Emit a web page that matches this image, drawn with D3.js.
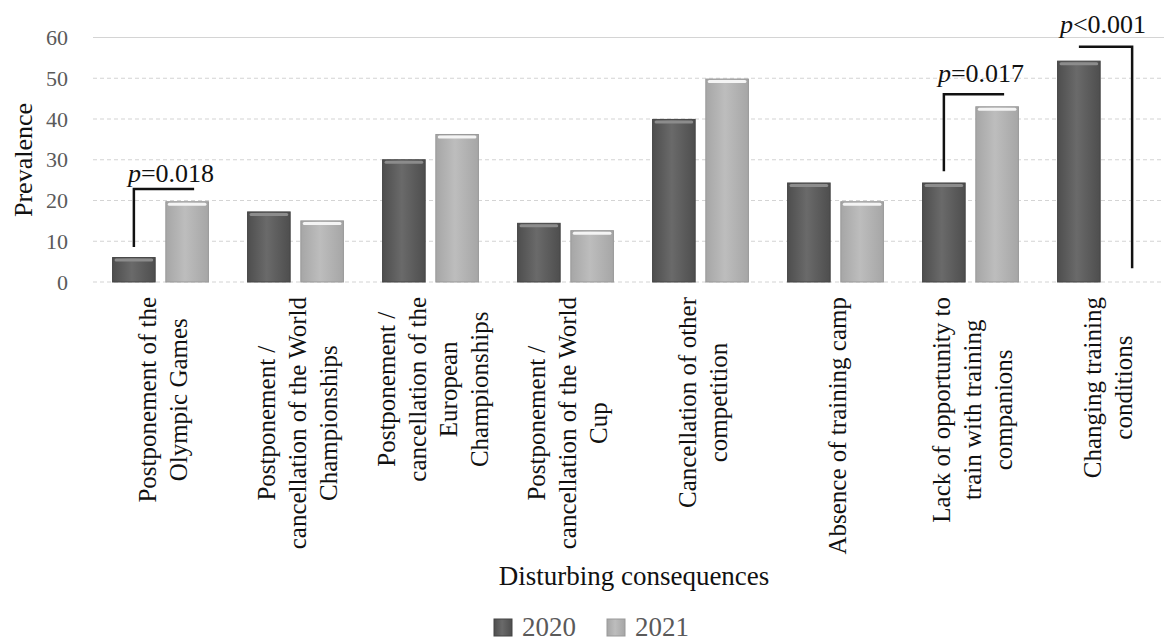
<!DOCTYPE html>
<html>
<head>
<meta charset="utf-8">
<script src="https://cdn.jsdelivr.net/npm/d3@7"></script>
<style>
  body { margin: 0; background: #fff; }
  svg { display: block; }
  text { font-family: "Liberation Serif", "Times New Roman", serif; }
</style>
</head>
<body>
<div id="chart"></div>
<script>
var w = 1164;
var h = 643;

// categories (label lines) and the two series
var categories = [
  ["Postponement of the", "Olympic Games"],
  ["Postponement /", "cancellation of the World", "Championships"],
  ["Postponement /", "cancellation of the", "European", "Championships"],
  ["Postponement /", "cancellation of the World", "Cup"],
  ["Cancellation of other", "competition"],
  ["Absence of training camp"],
  ["Lack of opportunity to", "train with training", "companions"],
  ["Changing training", "conditions"]
];
var years = ["2020", "2021"];
var values2020 = [6, 17.2, 30, 14.4, 39.9, 24.3, 24.3, 54.2];
var values2021 = [19.7, 15, 36.2, 12.6, 49.8, 19.7, 43, 0];
var yTicks = [0, 10, 20, 30, 40, 50, 60];

// significance brackets: category index, label, low end / top end (in prevalence units)
var pLabels = ["p=0.018", "p=0.017", "p<0.001"];
var pCats = [0, 6, 7];
var pLow = [8.6, 27.2, 3.4];
var pTop = [22.8, 46.1, 57.7];

var xAxisLabel = "Disturbing consequences",
    yAxisLabel = "Prevalence";

var svg = d3.select("#chart")
    .append("svg")
    .attr("width", w)
    .attr("height", h);

var margin = {top: 37.5, left: 93},
    plotW = 1080,
    plotH = 244.5;

var defs = svg.append("defs");
function grad(id, edge, mid) {
  var g = defs.append("linearGradient").attr("id", id)
      .attr("x1", "0%").attr("x2", "100%").attr("y1", "0%").attr("y2", "0%");
  g.append("stop").attr("offset", "0%").attr("stop-color", edge);
  g.append("stop").attr("offset", "45%").attr("stop-color", mid);
  g.append("stop").attr("offset", "100%").attr("stop-color", edge);
}
grad("g2020", "#4e4e4e", "#6a6a6a");
grad("g2021", "#a6a6a6", "#bdbdbd");
var colors = {"2020": "url(#g2020)", "2021": "url(#g2021)"};
var strokes = {"2020": "#444", "2021": "#999"};
var caps = {"2020": "#8c8c8c", "2021": "#f4f4f4"};

var g = svg.append("g").attr("transform", "translate(" + margin.left + "," + margin.top + ")");

var x0 = d3.scaleBand()
    .domain(d3.range(categories.length))
    .range([0, plotW])
    .paddingInner(0.29)
    .paddingOuter(0.145);

var x1 = d3.scaleBand()
    .domain(years)
    .range([0, x0.bandwidth()])
    .paddingInner(0.2);

var y = d3.scaleLinear()
    .domain([0, 60])
    .range([plotH, 0]);

// gridlines
g.append("g")
  .selectAll("line")
  .data(yTicks)
  .enter().append("line")
    .attr("x1", 0)
    .attr("x2", w - margin.left)
    .attr("y1", function(d) { return y(d); })
    .attr("y2", function(d) { return y(d); })
    .attr("stroke", "#d4d4d4")
    .attr("stroke-width", 1.2)
    .attr("stroke-dasharray", function(d) { return d === 60 ? null : "4,3"; });

// y tick labels
g.append("g")
  .selectAll("text")
  .data(yTicks)
  .enter().append("text")
    .attr("x", -25)
    .attr("y", function(d) { return y(d); })
    .attr("dy", "0.35em")
    .attr("text-anchor", "end")
    .attr("fill", "#5a5a5a")
    .style("font-size", "22px")
    .text(function(d) { return d; });

// bars
var rows = categories.map(function(c, i) {
  return {i: i, vals: [{year: "2020", v: values2020[i]}, {year: "2021", v: values2021[i]}]};
});

var groups = g.selectAll(".grp")
  .data(rows)
  .enter().append("g")
    .attr("transform", function(d) { return "translate(" + x0(d.i) + ",0)"; });

var bars = groups.selectAll(".bar")
  .data(function(d) { return d.vals.filter(function(b) { return b.v > 0; }); })
  .enter().append("g");

bars.append("rect")
    .attr("x", function(d) { return x1(d.year); })
    .attr("y", function(d) { return y(d.v); })
    .attr("width", x1.bandwidth())
    .attr("height", function(d) { return plotH - y(d.v); })
    .attr("fill", function(d) { return colors[d.year]; })
    .attr("stroke", function(d) { return strokes[d.year]; })
    .attr("stroke-width", 1);

bars.append("rect")
    .attr("x", function(d) { return x1(d.year) + 2; })
    .attr("y", function(d) { return y(d.v) + 1; })
    .attr("width", x1.bandwidth() - 4)
    .attr("height", 3)
    .attr("rx", 1.5)
    .attr("fill", function(d) { return caps[d.year]; });

// category labels (rotated, multi-line)
var lineGap = 31;
var labTop = 297 - margin.top;
var labels = g.append("g").selectAll("text")
  .data(categories)
  .enter().append("text")
    .attr("text-anchor", "middle")
    .attr("fill", "#111")
    .style("font-size", "25px");

labels.each(function(lines, i) {
  var t = d3.select(this);
  var n = lines.length;
  lines.forEach(function(s, k) {
    t.append("tspan")
      .attr("x", 0)
      .attr("y", (k - (n - 1) / 2) * lineGap)
      .attr("dy", "0.35em")
      .text(s);
  });
  var maxLen = d3.max(t.selectAll("tspan").nodes(), function(n) { return n.getComputedTextLength(); });
  var cx = x0(i) + x0.bandwidth() / 2 + 2;
  t.attr("transform", "translate(" + cx + "," + (labTop + maxLen / 2) + ") rotate(-90)");
});

// significance brackets
pLabels.forEach(function(lab, k) {
  var i = pCats[k];
  var xa = x0(i) + x1("2020") + x1.bandwidth() / 2;
  var xb = x0(i) + x1("2021") + x1.bandwidth() / 2;
  var path, tx, ty;
  if (k < 2) {
    path = "M" + xa + "," + y(pLow[k]) + "V" + y(pTop[k]) + "H" + (xb + 7);
    tx = xa - 6;
    ty = y(pTop[k]) - (k === 0 ? 7 : 12);
  } else {
    path = "M" + xa + "," + y(pTop[k]) + "H" + xb + "V" + y(pLow[k]);
    tx = xa - 19;
    ty = y(pTop[k]) - 14;
  }
  g.append("path")
    .attr("d", path)
    .attr("fill", "none")
    .attr("stroke", "#111")
    .attr("stroke-width", 2.5);
  var t = g.append("text")
    .attr("x", tx)
    .attr("y", ty)
    .attr("fill", "#111")
    .style("font-size", "26px");
  t.append("tspan").style("font-style", "italic").text(lab.charAt(0));
  t.append("tspan").text(lab.slice(1));
});

// axis titles
svg.append("text")
    .attr("transform", "translate(32,160) rotate(-90)")
    .attr("text-anchor", "middle")
    .attr("fill", "#111")
    .style("font-size", "26px")
    .text(yAxisLabel);

svg.append("text")
    .attr("x", 634)
    .attr("y", 585)
    .attr("text-anchor", "middle")
    .attr("fill", "#111")
    .style("font-size", "27px")
    .text(xAxisLabel);

// legend
var legend = svg.append("g").selectAll("g")
  .data(years)
  .enter().append("g")
    .attr("transform", function(d, i) { return "translate(" + (494 + i * 113) + ",619)"; });

legend.append("rect")
    .attr("width", 18)
    .attr("height", 17)
    .attr("fill", function(d) { return colors[d]; })
    .attr("stroke", function(d) { return strokes[d]; });

legend.append("text")
    .attr("x", 28)
    .attr("y", 17)
    .attr("fill", "#5a5a5a")
    .style("font-size", "27px")
    .text(function(d) { return d; });
</script>
</body>
</html>
